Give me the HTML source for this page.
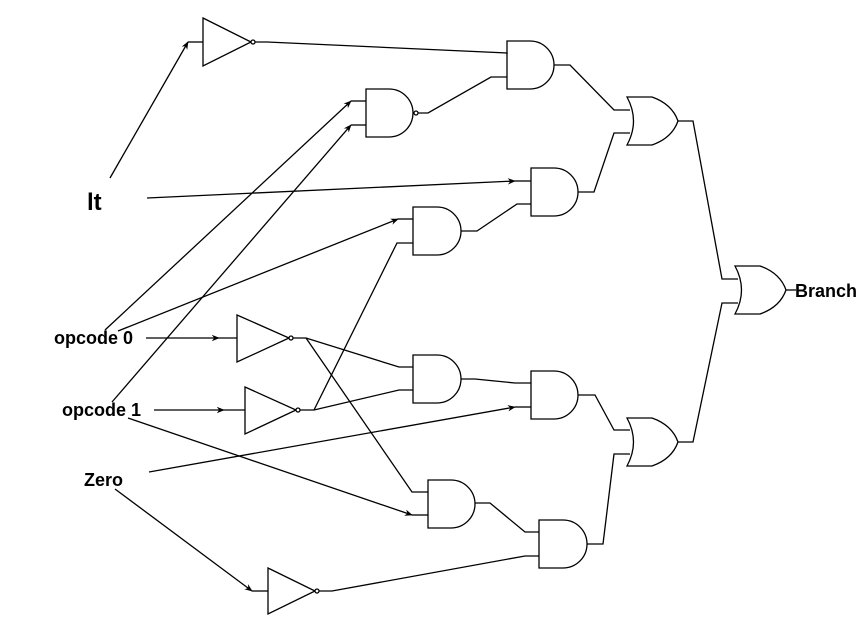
<!DOCTYPE html>
<html><head><meta charset="utf-8"><style>
html,body{margin:0;padding:0;background:#fff;}
svg{display:block;}
text{font-family:"Liberation Sans",Arial,sans-serif;font-weight:bold;fill:#000;}
</style></head><body>
<svg width="865" height="633" viewBox="0 0 865 633" xmlns="http://www.w3.org/2000/svg">
<defs>
<marker id="a" viewBox="0 0 10 10" refX="9" refY="5" markerWidth="8" markerHeight="8" orient="auto" markerUnits="userSpaceOnUse">
<path d="M0,1 L10,5 L0,9 L3,5 Z" fill="#000"/>
</marker>
</defs>
<g fill="none" stroke="#000" stroke-width="1.3">
<path d="M203,18 L251,42 L203,66 Z" fill="#fff"/><circle cx="253" cy="42" r="2" fill="#fff"/>
<line x1="188" y1="42" x2="203" y2="42"/>
<path d="M237,315 L289,338 L237,362 Z" fill="#fff"/><circle cx="291" cy="338" r="2" fill="#fff"/>
<line x1="219" y1="338" x2="237" y2="338"/>
<path d="M245,387 L296,410 L245,434 Z" fill="#fff"/><circle cx="298" cy="410" r="2" fill="#fff"/>
<line x1="224" y1="410" x2="245" y2="410"/>
<path d="M268,568 L315,591 L268,614 Z" fill="#fff"/><circle cx="317" cy="591" r="2" fill="#fff"/>
<line x1="252" y1="591" x2="268" y2="591"/>

<path d="M507,41 H530 A24,24 0 0 1 530,89 H507 Z"/>
<path d="M366,89 H389 A24,24 0 0 1 389,137 H366 Z"/><circle cx="416" cy="113" r="2" fill="#fff"/>
<path d="M531,168 H554 A24,24 0 0 1 554,216 H531 Z"/>
<path d="M413,207 H437 A24,24 0 0 1 437,255 H413 Z"/>
<path d="M413,355 H437 A24,24 0 0 1 437,403 H413 Z"/>
<path d="M531,371 H554 A24,24 0 0 1 554,419 H531 Z"/>
<path d="M428,480 H451 A24,24 0 0 1 451,528 H428 Z"/>
<path d="M539,520 H563 A24,24 0 0 1 563,568 H539 Z"/>

<path d="M627,97 H652 Q672,104 678,121 Q672,138 652,145 H627 Q640,121 627,97 Z"/>
<path d="M627,418 H652 Q672,425 678,442 Q672,459 652,466 H627 Q640,442 627,418 Z"/>
<path d="M735,266 H760 Q780,273 786,290 Q780,307 760,314 H735 Q748,290 735,266 Z"/>

<polyline points="255,42 267,42 507,53 507,54"/>
<polyline points="418,113 428,113 491,77 507,77"/>
<polyline points="554,65 570,65 614,110 630,110"/>
<polyline points="578,192 594,192 614,133 630,133"/>
<polyline points="461,231 477,231 517,204 531,204"/>
<polyline points="678,121 693,121 722,279 738,279"/>
<polyline points="678,442 693,442 722,303 738,303"/>
<line x1="786" y1="290" x2="796" y2="290"/>
<polyline points="293,338 306,338 399,367 413,367"/>
<polyline points="306,338 412,492 428,492"/>
<polyline points="300,410 314,410 399,390 413,390"/>
<polyline points="314,410 397,243 413,243"/>
<polyline points="461,379 475,379 515,383 531,383"/>
<polyline points="578,395 595,395 614,430 630,430"/>
<polyline points="475,503 490,503 525,532 539,532"/>
<polyline points="587,544 603,544 614,454 630,454"/>
<polyline points="319,591 332,591 525,556 539,556"/>
<line x1="351" y1="101" x2="366" y2="101"/>
<line x1="351" y1="125" x2="366" y2="125"/>
<line x1="398" y1="219" x2="413" y2="219"/>
<line x1="515" y1="181" x2="531" y2="181"/>
<line x1="515" y1="407" x2="531" y2="407"/>
<line x1="412" y1="515" x2="428" y2="515"/>

<line x1="110" y1="178" x2="188" y2="42" marker-end="url(#a)"/>
<line x1="147" y1="198" x2="515" y2="181" marker-end="url(#a)"/>
<line x1="105" y1="330" x2="351" y2="101" marker-end="url(#a)"/>
<line x1="118" y1="331" x2="398" y2="219" marker-end="url(#a)"/>
<line x1="146" y1="338" x2="219" y2="338" marker-end="url(#a)"/>
<line x1="112" y1="402" x2="351" y2="125" marker-end="url(#a)"/>
<line x1="154" y1="410" x2="224" y2="410" marker-end="url(#a)"/>
<line x1="128" y1="418" x2="412" y2="515" marker-end="url(#a)"/>
<line x1="149" y1="472" x2="515" y2="407" marker-end="url(#a)"/>
<line x1="115" y1="489" x2="252" y2="591" marker-end="url(#a)"/>
</g>
<text x="87" y="210" font-size="24">lt</text>
<text x="54" y="344" font-size="18">opcode 0</text>
<text x="62" y="416" font-size="18">opcode 1</text>
<text x="84" y="486" font-size="18">Zero</text>
<text x="795" y="297" font-size="18">Branch</text>
</svg>
</body></html>
